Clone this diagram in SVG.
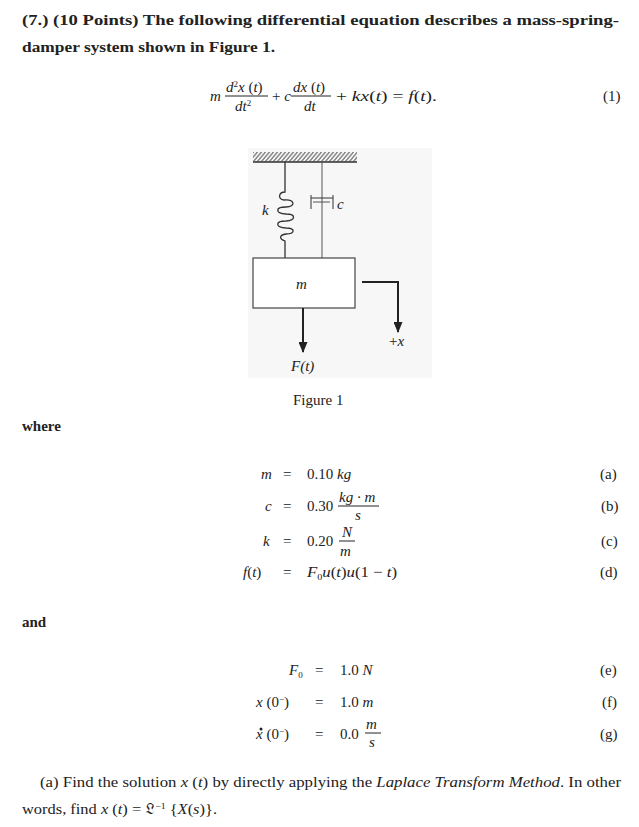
<svg xmlns="http://www.w3.org/2000/svg" width="639" height="827" viewBox="0 0 639 827">
<style>
text{font-family:"Liberation Serif","DejaVu Serif",serif;font-size:15px;fill:#222}
.b{font-weight:bold}
.i{font-style:italic}
.ln{stroke:#333;fill:none}
</style>
<defs>
<marker id="ah" markerWidth="11" markerHeight="9" refX="10" refY="4.5" orient="auto" markerUnits="userSpaceOnUse"><path d="M0,0 L11,4.5 L0,9 Z" fill="#222"/></marker>
<pattern id="hatch" width="4" height="10" patternUnits="userSpaceOnUse" patternTransform="skewX(-40)"><line x1="1" y1="0" x2="1" y2="10" stroke="#444" stroke-width="1.2"/></pattern>
</defs>
<rect width="639" height="827" fill="#fff"/>
<text x="22" y="25" class="b" font-size="16" textLength="597" lengthAdjust="spacingAndGlyphs">(7.)  (10 Points) The following differential equation describes a mass-spring-</text>
<text x="22" y="52" class="b" font-size="16" textLength="253" lengthAdjust="spacingAndGlyphs">damper system shown in Figure 1.</text>
<g id="eq1">
<text x="210" y="101" class="i">m</text>
<text x="226" y="92"><tspan class="i">d</tspan><tspan font-size="9" dy="-5">2</tspan><tspan class="i" dy="5">x</tspan> (<tspan class="i">t</tspan>)</text>
<line x1="225" y1="96" x2="268" y2="96" stroke="#222"/>
<text x="235" y="111" class="i">dt<tspan font-size="9" dy="-5" font-style="normal">2</tspan></text>
<text x="272" y="101">+ <tspan class="i">c</tspan></text>
<text x="293" y="92"><tspan class="i">dx</tspan> (<tspan class="i">t</tspan>)</text>
<line x1="291" y1="96" x2="331" y2="96" stroke="#222"/>
<text x="304" y="111" class="i">dt</text>
<text x="336" y="101" textLength="101" lengthAdjust="spacingAndGlyphs">+ <tspan class="i">kx</tspan>(<tspan class="i">t</tspan>) = <tspan class="i">f</tspan>(<tspan class="i">t</tspan>).</text>
<text x="603" y="101">(1)</text>
</g>
<g id="figure">
<rect x="248" y="148" width="184" height="230" fill="#f7f7f7"/>
<rect x="253" y="152" width="104" height="10" fill="url(#hatch)"/>
<line x1="253" y1="162" x2="357" y2="162" stroke="#333" stroke-width="1.5"/>
<g id="spring">
<path class="ln" stroke-width="1.3" d="M285,162 V192 C279,192 277,199 284,200 C295,199 296,207 286,207 C275,207 275,213 286,214 C296,214 296,220 286,221 C275,221 275,227 286,228 C296,228 295,234 286,234 C279,235 279,239 285,241 V258"/>
<text x="262" y="215" class="i" font-size="14">k</text>
</g>
<g id="damper">
<line x1="322" y1="162" x2="322" y2="202" stroke="#555"/>
<path class="ln" stroke="#555" d="M311,195 V209 M311,198 H333 M333,195 V209"/>
<line x1="313" y1="202" x2="330" y2="202" stroke="#555"/>
<line x1="322" y1="202" x2="322" y2="258" stroke="#555"/>
<text x="337" y="209" class="i" font-size="13">c</text>
</g>
<g id="mass">
<rect x="253" y="258" width="102" height="50" fill="#fff" stroke="#444" stroke-width="1.2"/>
<text x="296" y="289" class="i" font-size="14">m</text>
</g>
<g id="connectors">
<line x1="303" y1="308" x2="303" y2="352" stroke="#222" stroke-width="2" marker-end="url(#ah)"/>
<polyline points="362,282 398,282 398,332" fill="none" stroke="#222" stroke-width="2" marker-end="url(#ah)"/>
</g>
<text x="291" y="371" class="i" font-size="14">F(t)</text>
<text x="389" y="346" font-size="14">+<tspan class="i">x</tspan></text>
</g>
<text x="293" y="405">Figure 1</text>
<text x="22" y="431" class="b">where</text>
<g id="params1">
<text x="261" y="479" class="i">m</text><text x="283" y="479">=</text><text x="307" y="479">0.10 <tspan class="i">kg</tspan></text><text x="600" y="479">(a)</text>
<text x="265" y="511" class="i">c</text><text x="283" y="511">=</text><text x="307" y="511">0.30</text>
<text x="339" y="502" class="i" font-size="14">kg · m</text><line x1="338" y1="506" x2="379" y2="506" stroke="#222"/><text x="355" y="520" class="i" font-size="14">s</text><text x="601" y="511">(b)</text>
<text x="263" y="546" class="i">k</text><text x="283" y="546">=</text><text x="307" y="546">0.20</text>
<text x="342" y="537" class="i" font-size="14">N</text><line x1="339" y1="541" x2="355" y2="541" stroke="#222"/><text x="340" y="556" class="i" font-size="14">m</text><text x="601" y="546">(c)</text>
<text x="243" y="577"><tspan class="i">f</tspan>(<tspan class="i">t</tspan>)</text><text x="283" y="577">=</text><text x="307" y="577" class="i" textLength="90" lengthAdjust="spacingAndGlyphs">F<tspan font-size="9" dy="3" font-style="normal">0</tspan><tspan dy="-3">u</tspan><tspan font-style="normal">(</tspan>t<tspan font-style="normal">)</tspan>u<tspan font-style="normal">(1 − </tspan>t<tspan font-style="normal">)</tspan></text><text x="600" y="577">(d)</text>
</g>
<text x="22" y="627" class="b">and</text>
<g id="params2">
<text x="289" y="675" class="i">F<tspan font-size="9" dy="3" font-style="normal">0</tspan></text><text x="315" y="675">=</text><text x="340" y="675">1.0 <tspan class="i">N</tspan></text><text x="600" y="675">(e)</text>
<text x="256" y="707"><tspan class="i">x</tspan> (0<tspan font-size="9" dy="-5">−</tspan><tspan dy="5">)</tspan></text><text x="315" y="707">=</text><text x="340" y="707">1.0 <tspan class="i">m</tspan></text><text x="602" y="707">(f)</text>
<circle cx="261" cy="729" r="1.5" fill="#222"/>
<text x="256" y="739"><tspan class="i">x</tspan> (0<tspan font-size="9" dy="-5">−</tspan><tspan dy="5">)</tspan></text><text x="315" y="739">=</text><text x="340" y="739">0.0</text>
<text x="366" y="729" class="i" font-size="14">m</text><line x1="365" y1="733" x2="381" y2="733" stroke="#222"/><text x="369" y="747" class="i" font-size="14">s</text><text x="600" y="739">(g)</text>
</g>
<text x="40" y="787" textLength="581" lengthAdjust="spacingAndGlyphs">(a) Find the solution <tspan class="i">x</tspan> (<tspan class="i">t</tspan>) by directly applying the <tspan class="i">Laplace Transform Method</tspan>.  In other</text>
<text x="22" y="814" textLength="195" lengthAdjust="spacingAndGlyphs">words, find <tspan class="i">x</tspan> (<tspan class="i">t</tspan>) = 𝔏<tspan font-size="9" dy="-5">−1</tspan><tspan dy="5"> {</tspan><tspan class="i">X</tspan>(<tspan class="i">s</tspan>)}.</text>
</svg>
